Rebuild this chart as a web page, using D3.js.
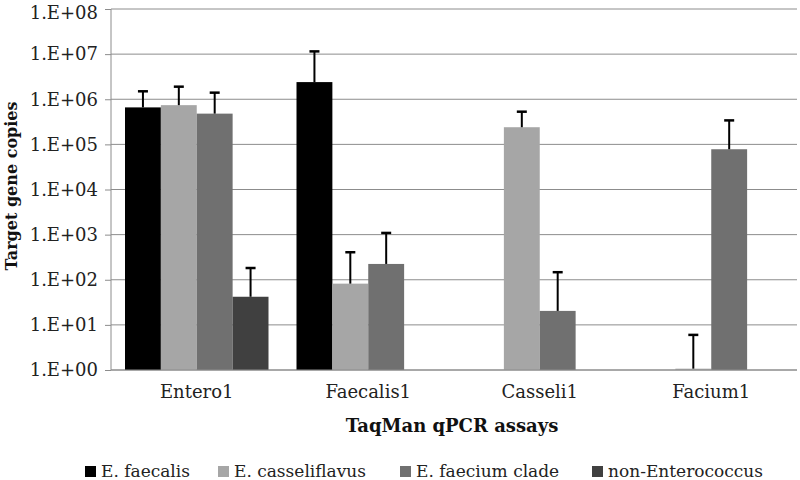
<!DOCTYPE html>
<meta charset="utf-8">
<head>
<style>
    body {margin: 0; background: #fff;}
    text {font-family: "DejaVu Serif", serif;}
</style>
</head>
<body>
<div class="chart"></div>
<script src="https://d3js.org/d3.v7.min.js"></script>
<script>
// assays and species groups
var assays = ["Entero1", "Faecalis1", "Casseli1", "Facium1"];
var species = ["E. faecalis", "E. casseliflavus", "E. faecium clade", "non-Enterococcus"];
var colors = ["#000000", "#a6a6a6", "#707070", "#404040"];

// mean copies per species, one array per assay (null = no bar)
var entero1  = [6.6e5, 7.4e5, 4.8e5, 42];
var faecalis1 = [2.4e6, 82, 224, null];
var casseli1 = [null, 2.4e5, 20.4, null];
var facium1  = [null, 1.07, 7.8e4, null];

// top of the error bar
var entero1Err  = [1.5e6, 1.9e6, 1.4e6, 182];
var faecalis1Err = [1.15e7, 407, 1090, null];
var casseli1Err = [null, 5.3e5, 147, null];
var facium1Err  = [null, 6.0, 3.4e5, null];

var yTicks = [1e0, 1e1, 1e2, 1e3, 1e4, 1e5, 1e6, 1e7, 1e8];

var values = [entero1, faecalis1, casseli1, facium1];
var errors = [entero1Err, faecalis1Err, casseli1Err, facium1Err];

var width = 800, height = 480;
var margin = {top: 9, right: 3, bottom: 110, left: 111};
var iw = width - margin.left - margin.right,
    ih = height - margin.top - margin.bottom;

var svg = d3.select(".chart").append("svg")
    .attr("width", width)
    .attr("height", height);

var g = svg.append("g").attr("transform", "translate(" + margin.left + "," + margin.top + ")");

var x0 = d3.scaleBand().domain(assays).range([0, iw]).paddingInner(0).paddingOuter(0);
var x1 = d3.scaleBand().domain(species).range([14, x0.bandwidth() - 14]);
var y = d3.scaleLog().domain([1, 1e8]).range([ih, 0]);

// gridlines
g.selectAll(".grid").data(yTicks).enter().append("line")
    .attr("x1", 0).attr("x2", iw)
    .attr("y1", function (d) { return y(d); })
    .attr("y2", function (d) { return y(d); })
    .attr("stroke", "#8c8c8c").attr("stroke-width", 1);

// y axis
var yAxis = g.append("g").call(d3.axisLeft(y).tickValues(yTicks).tickSize(6)
    .tickFormat(function (d) { return "1.E+" + d3.format("02d")(Math.round(Math.log10(d))); }));
yAxis.select(".domain").attr("stroke", "#8c8c8c").attr("d", "M0," + ih + "V0");
yAxis.selectAll(".tick line").attr("stroke", "#8c8c8c");
yAxis.selectAll(".tick text").attr("x", -13).attr("font-size", "18px")
    .attr("font-family", "DejaVu Serif").attr("fill", "#222");
// top label sits a little lower, like excel does
yAxis.selectAll(".tick text").filter(function (d) { return d === 1e8; }).attr("dy", "0.5em");

// bars
var rows = [];
assays.forEach(function (a, i) {
    species.forEach(function (s, j) {
        if (values[i][j] != null) rows.push({assay: a, sp: s, v: values[i][j], e: errors[i][j], c: colors[j]});
    });
});

var bar = g.selectAll(".bar").data(rows).enter().append("g")
    .attr("transform", function (d) { return "translate(" + (x0(d.assay) + x1(d.sp)) + ",0)"; });

bar.append("rect")
    .attr("y", function (d) { return y(d.v); })
    .attr("width", x1.bandwidth())
    .attr("height", function (d) { return ih - y(d.v); })
    .attr("fill", function (d) { return d.c; });

var bw = x1.bandwidth();
bar.append("line")
    .attr("x1", bw / 2).attr("x2", bw / 2)
    .attr("y1", function (d) { return y(d.v); })
    .attr("y2", function (d) { return y(d.e); })
    .attr("stroke", "#000").attr("stroke-width", 2);
bar.append("line")
    .attr("x1", bw / 2 - 5).attr("x2", bw / 2 + 5)
    .attr("y1", function (d) { return y(d.e); })
    .attr("y2", function (d) { return y(d.e); })
    .attr("stroke", "#000").attr("stroke-width", 2.5);

// baseline
g.append("line").attr("x1", 0).attr("x2", iw).attr("y1", ih).attr("y2", ih)
    .attr("stroke", "#8c8c8c");

// x labels
g.selectAll(".xl").data(assays).enter().append("text")
    .attr("x", function (d) { return x0(d) + x0.bandwidth() / 2; })
    .attr("y", ih + 28)
    .attr("text-anchor", "middle")
    .attr("font-size", "18px").attr("fill", "#222")
    .text(function (d) { return d; });

// axis titles
svg.append("text")
    .attr("x", 452).attr("y", 432)
    .attr("text-anchor", "middle")
    .attr("font-size", "18px").attr("font-weight", "bold").attr("fill", "#111")
    .text("TaqMan qPCR assays");

svg.append("text")
    .attr("transform", "translate(17,186) rotate(-90)")
    .attr("text-anchor", "middle")
    .attr("font-size", "16px").attr("font-weight", "bold").attr("fill", "#111")
    .text("Target gene copies");

// legend
var legX = [85, 218, 400, 592];
var leg = svg.selectAll(".leg").data(species).enter().append("g")
    .attr("transform", function (d, i) { return "translate(" + legX[i] + ",466)"; });
leg.append("rect").attr("width", 11).attr("height", 11)
    .attr("fill", function (d, i) { return colors[i]; });
leg.append("text").attr("x", 16).attr("y", 11)
    .attr("font-size", "17px").attr("fill", "#222")
    .text(function (d) { return d; });
</script>
</body>
